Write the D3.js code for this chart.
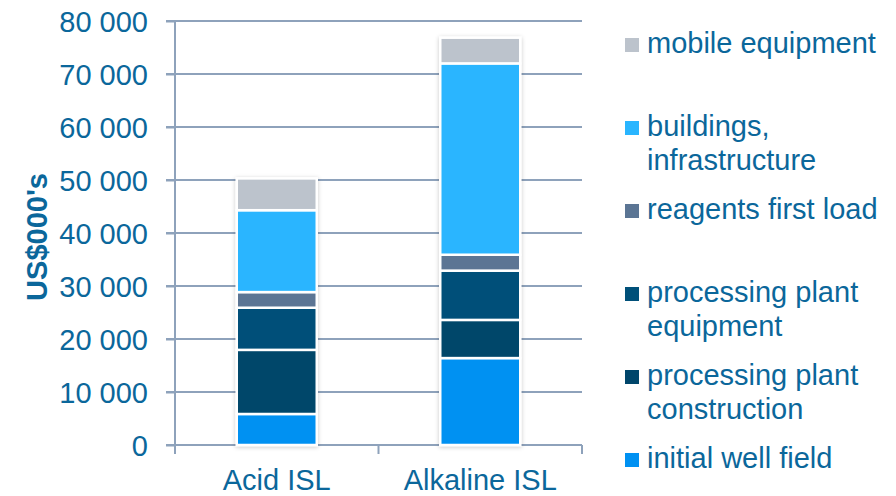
<!DOCTYPE html>
<html>
<head>
<meta charset="utf-8">
<script src="https://cdn.jsdelivr.net/npm/d3@7"></script>
<style>
  html, body { margin: 0; padding: 0; background: #ffffff; }
  svg text { font-family: "Liberation Sans", Arial, Helvetica, sans-serif; fill: #0b679b; }
</style>
</head>
<body>
<svg id="chart" width="896" height="496"></svg>
<script>
// Capital cost by item, US$000's
var categories = ["Acid ISL", "Alkaline ISL"];
var wellField = [5850, 16400];
var plantConstruction = [12100, 7200];
var plantEquipment = [7950, 9300];
var reagents = [2950, 3000];
var buildings = [15450, 36100];
var mobile = [6000, 4850];

// series, bottom to top
var seriesKeys = ["well", "construction", "equipment", "reagents", "buildings", "mobile"];
var seriesValues = [wellField, plantConstruction, plantEquipment, reagents, buildings, mobile];
var seriesColors = ["#0091f2", "#00466b", "#005079", "#5b7594", "#29b5ff", "#bcc3cc"];

// legend, top to bottom
var legendLabels = [
    ["mobile equipment"],
    ["buildings,", "infrastructure"],
    ["reagents first load"],
    ["processing plant", "equipment"],
    ["processing plant", "construction"],
    ["initial well field"]
];
var legendKeys = ["mobile", "buildings", "reagents", "equipment", "construction", "well"];

var yTicks = [0, 10000, 20000, 30000, 40000, 50000, 60000, 70000, 80000];

var rows = categories.map(function (c, i) {
    var row = { category: c };
    seriesKeys.forEach(function (k, j) { row[k] = seriesValues[j][i]; });
    return row;
});

var svg = d3.select("#chart");
var plotLeft = 175, plotRight = 582, plotTop = 21, plotBottom = 445;
var gridColor = "#8ea2bb";

var x = d3.scaleBand().domain(categories).range([plotLeft, plotRight]).paddingInner(0).paddingOuter(0);
var y = d3.scaleLinear().domain([0, 80000]).range([plotBottom, plotTop]);
var color = d3.scaleOrdinal().domain(seriesKeys).range(seriesColors);
var fmt = d3.formatLocale({ decimal: ".", thousands: " ", grouping: [3], currency: ["", ""] }).format(",");

// soft shadow round the bars
var defs = svg.append("defs");
defs.append("filter")
    .attr("id", "bar-shadow")
    .attr("x", "-20%").attr("y", "-10%")
    .attr("width", "140%").attr("height", "120%")
    .append("feDropShadow")
    .attr("dx", 0).attr("dy", 1)
    .attr("stdDeviation", 2)
    .attr("flood-color", "#000000")
    .attr("flood-opacity", 0.22);

// Gridlines
svg.append("g")
    .attr("class", "grid")
    .selectAll("line")
    .data(yTicks)
    .join("line")
    .attr("x1", plotLeft - 9)
    .attr("x2", plotRight)
    .attr("y1", function (d) { return y(d); })
    .attr("y2", function (d) { return y(d); })
    .style("stroke", gridColor)
    .style("stroke-width", 2);

// Y axis
var yAxis = svg.append("g")
    .attr("transform", "translate(" + plotLeft + ",0)")
    .call(d3.axisLeft(y).tickValues(yTicks).tickFormat(fmt).tickSize(9).tickPadding(18));
yAxis.select(".domain").remove();
yAxis.selectAll(".tick line").style("stroke", gridColor).style("stroke-width", 2);
yAxis.selectAll(".tick text")
    .attr("font-family", null)
    .style("font-size", "29px")
    .style("fill", "#0b679b")
    .attr("dy", "0.35em");

svg.append("line")
    .attr("x1", plotLeft).attr("x2", plotLeft)
    .attr("y1", plotTop).attr("y2", plotBottom + 9)
    .style("stroke", gridColor)
    .style("stroke-width", 2);

// X axis ticks at band edges
var edges = categories.map(function (c) { return x(c); }).concat([plotRight]);
svg.append("g")
    .selectAll("line")
    .data(edges)
    .join("line")
    .attr("x1", function (d) { return d; })
    .attr("x2", function (d) { return d; })
    .attr("y1", plotBottom)
    .attr("y2", plotBottom + 9)
    .style("stroke", gridColor)
    .style("stroke-width", 2);

svg.append("g")
    .selectAll("text")
    .data(categories)
    .join("text")
    .attr("x", function (d) { return x(d) + x.bandwidth() / 2; })
    .attr("y", 490)
    .attr("text-anchor", "middle")
    .style("font-size", "29px")
    .text(function (d) { return d; });

// Y axis title
svg.append("text")
    .attr("transform", "translate(47,237) rotate(-90)")
    .attr("text-anchor", "middle")
    .style("font-size", "29px")
    .style("font-weight", "bold")
    .text("US$000's");

// Stacked bars
var stacked = d3.stack().keys(seriesKeys)(rows);
var barWidth = 80;

var bars = svg.append("g").attr("class", "bars");
categories.forEach(function (c, i) {
    var g = bars.append("g").attr("filter", "url(#bar-shadow)");
    g.selectAll("rect")
        .data(stacked.map(function (s) { return { key: s.key, d: s[i] }; }))
        .join("rect")
        .attr("x", x(c) + x.bandwidth() / 2 - barWidth / 2)
        .attr("width", barWidth)
        .attr("y", function (s) { return y(s.d[1]); })
        .attr("height", function (s) { return y(s.d[0]) - y(s.d[1]); })
        .style("fill", function (s) { return color(s.key); })
        .style("stroke", "#ffffff")
        .style("stroke-width", 2.5);
});

// Legend
var legend = svg.append("g").attr("class", "legend");
var item = legend.selectAll("g")
    .data(legendKeys)
    .join("g")
    .attr("transform", function (d, i) { return "translate(625," + (53 + i * 83) + ")"; });
item.append("rect")
    .attr("x", 0)
    .attr("y", -15)
    .attr("width", 14)
    .attr("height", 14)
    .style("fill", function (d) { return color(d); });
item.append("text")
    .attr("x", 22)
    .style("font-size", "29px")
    .each(function (d, i) {
        d3.select(this).selectAll("tspan")
            .data(legendLabels[i])
            .join("tspan")
            .attr("x", 22)
            .attr("dy", function (t, j) { return j === 0 ? 0 : 33.5; })
            .text(function (t) { return t; });
    });
</script>
</body>
</html>
